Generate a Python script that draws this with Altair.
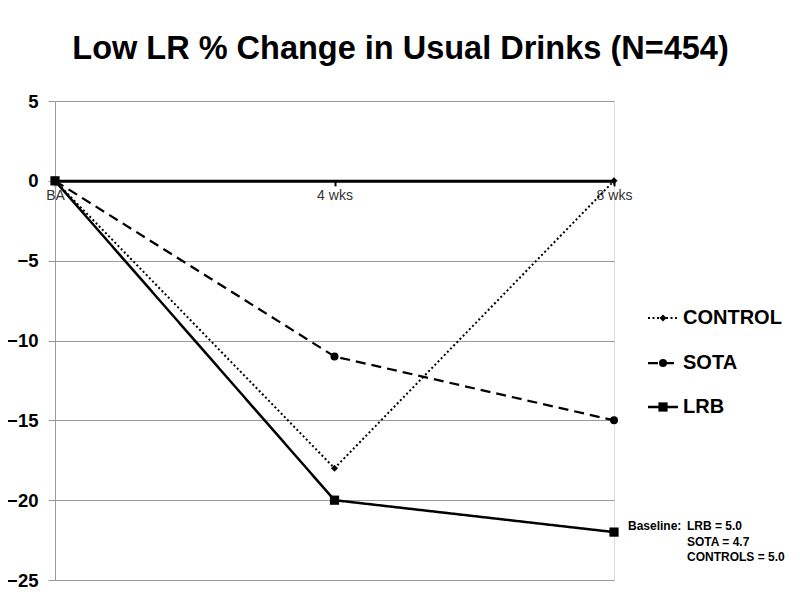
import altair as alt
import pandas as pd

# ---- data ----
timepoints = ["BA", "4 wks", "8 wks"]
series_names = ["CONTROL", "SOTA", "LRB"]
control = [0, -18, 0]
sota = [0, -11, -15]
lrb = [0, -20, -22]
y_ticks = [5, 0, -5, -10, -15, -20, -25]
baseline_label = "Baseline:"
baseline_notes = ["LRB = 5.0", "SOTA = 4.7", "CONTROLS = 5.0"]
title_text = "Low LR % Change in Usual Drinks (N=454)"

rows = []
for name, vals in zip(series_names, [control, sota, lrb]):
    for t, v in zip(timepoints, vals):
        rows.append({"time": t, "value": v, "series": name})
df = pd.DataFrame(rows)
leg_df = pd.DataFrame({"series": series_names})

FONT = "Liberation Sans"
W, H = 559, 479
YMIN, YMAX = -25, 5
zero_offset = -H * (0 - YMIN) / (YMAX - YMIN)

x_enc = alt.X(
    "time:N",
    scale=alt.Scale(domain=timepoints, type="point", padding=0),
    axis=alt.Axis(
        orient="bottom", offset=zero_offset, title=None, labelAngle=0,
        domainColor="black", domainWidth=3, tickColor="black", tickWidth=2,
        tickSize=5, labelFontSize=14, labelColor="#333333", labelFont=FONT,
        labelPadding=3, grid=False,
    ),
)
y_enc = alt.Y(
    "value:Q",
    scale=alt.Scale(domain=[YMIN, YMAX], nice=False, zero=False),
    axis=alt.Axis(
        values=y_ticks, title=None, labelFontSize=18.5, labelFontWeight="bold",
        labelFont=FONT, labelColor="black", grid=True, gridColor="#9a9a9a",
        gridWidth=1, domainColor="#9a9a9a", tickColor="#9a9a9a", tickSize=7,
        labelPadding=10,
    ),
)

dash_enc = alt.StrokeDash(
    "series:N",
    scale=alt.Scale(domain=series_names, range=[[2, 2.5], [10, 6], [1, 0]]),
    legend=None,
)
width_enc = alt.StrokeWidth(
    "series:N",
    scale=alt.Scale(domain=series_names, range=[2, 2.5, 2.5]),
    legend=None,
)

base = alt.Chart(df)
lines = base.mark_line(color="black").encode(
    x=x_enc, y=y_enc, strokeDash=dash_enc, strokeWidth=width_enc
)

shapes = {"CONTROL": ("diamond", 50), "SOTA": ("circle", 64), "LRB": ("square", 85)}
layers = [lines]
for name in series_names:
    shp, sz = shapes[name]
    layers.append(
        base.transform_filter(alt.datum.series == name)
        .mark_point(shape=shp, size=sz, filled=True, color="black", opacity=1)
        .encode(x="time:N", y="value:Q")
    )

# ---- hand-drawn legend (layout positions in pixels of the plot area) ----
legend_rows_y = [217, 262, 306]
LEG_X0, LEG_X1, LEG_MARK, LEG_TEXT = 593, 623, 608, 628
leg_base = alt.Chart(leg_df)
for name, ly in zip(series_names, legend_rows_y):
    shp, sz = shapes[name]
    one = leg_base.transform_filter(alt.datum.series == name)
    layers.append(
        one.mark_rule(color="black").encode(
            x=alt.value(LEG_X0), x2=alt.value(LEG_X1), y=alt.value(ly),
            strokeDash=dash_enc, strokeWidth=width_enc,
        )
    )
    layers.append(
        one.mark_point(shape=shp, size=sz, filled=True, color="black", opacity=1)
        .encode(x=alt.value(LEG_MARK), y=alt.value(ly))
    )
    layers.append(
        one.mark_text(
            align="left", baseline="middle", fontSize=20, fontWeight="bold",
            font=FONT, color="black",
        ).encode(x=alt.value(LEG_TEXT), y=alt.value(ly), text="series:N")
    )

note_df = pd.DataFrame({"time": [timepoints[-1]], "value": [lrb[-1]]})
note_base = alt.Chart(note_df)
layers.append(
    note_base.mark_text(
        text=baseline_label, align="left", baseline="top", dx=14, dy=-11,
        fontSize=12, fontWeight="bold", font=FONT, color="black",
    ).encode(x="time:N", y="value:Q")
)
layers.append(
    note_base.mark_text(
        text=baseline_notes, align="left", baseline="top", dx=73, dy=-11,
        lineHeight=15.5, fontSize=12, fontWeight="bold", font=FONT, color="black",
    ).encode(x="time:N", y="value:Q")
)

chart = (
    alt.layer(*layers)
    .properties(
        width=W,
        height=H,
        autosize=alt.AutoSizeParams(type="none"),
        padding={"left": 47, "top": 93, "right": 178, "bottom": 11},
        title=alt.TitleParams(
            title_text, fontSize=32.5, fontWeight="bold", font=FONT,
            color="black", anchor="middle", frame="group", dx=66, offset=27,
        ),
    )
    .configure_view(stroke=None)
    .configure(background="white")
)

chart.save("out.html", embed_options={"renderer": "svg", "actions": False})
